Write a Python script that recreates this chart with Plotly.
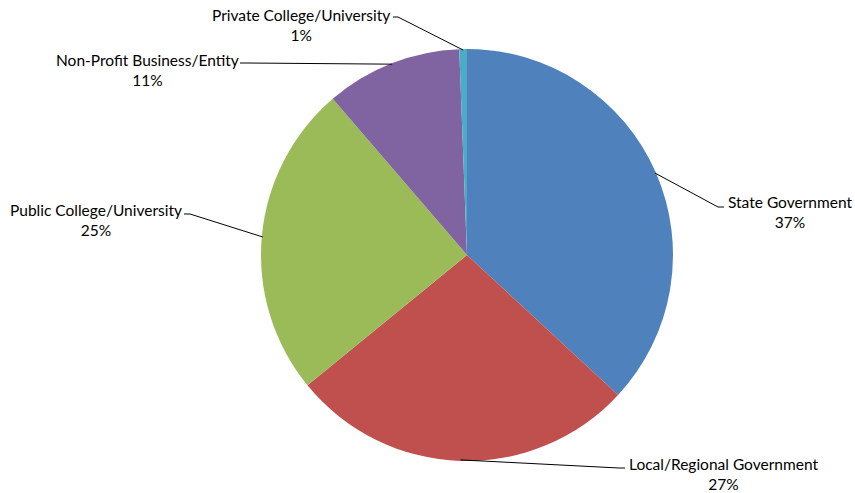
import math
import plotly.graph_objects as go

categories = ["State Government", "Local/Regional Government", "Public College/University",
              "Non-Profit Business/Entity", "Private College/University"]
shares = [36.9, 27.2, 24.6, 10.7, 0.6]
colors = ["#4F81BD", "#C0504D", "#9BBB59", "#8064A2", "#4BACC6"]

W, H = 855, 493
CX, CY, R = 467, 255, 206

# label block centres and leader line (bend, end) points, in pixels
label_pos = [(790, 212), (723, 474), (96, 220), (147, 70), (301, 25)]
leader_pts = [((718, 207), (724, 207)),
              ((619, 468), (625, 468)),
              ((190, 214), (184, 214)),
              ((246, 63), (240, 63)),
              ((398, 17), (393, 17))]

fig = go.Figure(go.Pie(
    labels=categories, values=shares, sort=False, direction="clockwise", rotation=0,
    marker=dict(colors=colors, line=dict(width=0)), textinfo="none", hoverinfo="label+percent",
    domain=dict(x=[(CX - R) / W, (CX + R) / W], y=[(H - CY - R) / H, (H - CY + R) / H]),
    showlegend=False,
))

total = sum(shares)
acc = 0.0
annotations, shapes = [], []
for cat, v, (lx, ly), (bend, end) in zip(categories, shares, label_pos, leader_pts):
    mid = (acc + v / 2) / total * 2 * math.pi
    acc += v
    sx = CX + (R - 1) * math.sin(mid)
    sy = CY - (R - 1) * math.cos(mid)
    pct = round(v / total * 100)
    annotations.append(dict(
        x=lx / W, y=1 - ly / H, xref="paper", yref="paper", xanchor="center", yanchor="middle",
        text=f"{cat}<br>{pct}%", showarrow=False, align="center",
        font=dict(family="Lato", size=15.5, color="#000000"),
    ))
    path = f"M {sx/W},{1-sy/H} L {bend[0]/W},{1-bend[1]/H} L {end[0]/W},{1-end[1]/H}"
    shapes.append(dict(type="path", xref="paper", yref="paper", path=path,
                       line=dict(color="#000000", width=1)))

fig.update_layout(
    width=W, height=H, margin=dict(l=0, r=0, t=0, b=0),
    paper_bgcolor="white", plot_bgcolor="white",
    annotations=annotations, shapes=shapes,
)
fig.write_html("out.html", config={"displayModeBar": False},
               post_script="document.body.style.margin='0';")
